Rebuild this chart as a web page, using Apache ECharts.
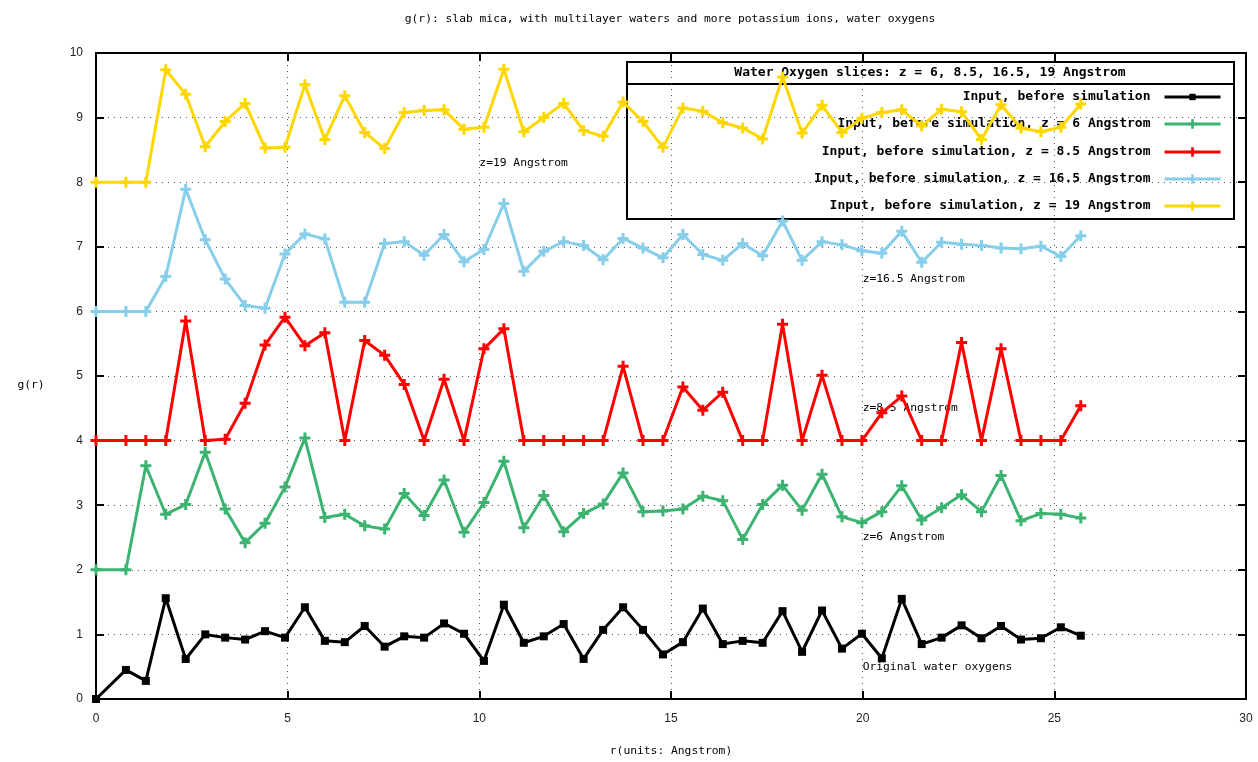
<!DOCTYPE html>
<html>
<head>
<meta charset="utf-8">
<title>g(r): slab mica, water oxygens</title>
<script src="https://cdn.jsdelivr.net/npm/echarts@6/dist/echarts.min.js"></script>
<style>
  html, body { margin: 0; padding: 0; background: #fff; }
  #chart { width: 1258px; height: 762px; }
</style>
</head>
<body>
<div id="chart"></div>
<script>
// Radial bin positions r (Angstrom)
const r = [0, 0.78, 1.30, 1.82, 2.34, 2.85, 3.37, 3.89, 4.41, 4.93,
  5.45, 5.97, 6.49, 7.01, 7.53, 8.04, 8.56, 9.08, 9.60, 10.12,
  10.64, 11.16, 11.68, 12.20, 12.72, 13.23, 13.75, 14.27, 14.79, 15.31,
  15.83, 16.35, 16.87, 17.39, 17.91, 18.42, 18.94, 19.46, 19.98, 20.50,
  21.02, 21.54, 22.06, 22.58, 23.10, 23.61, 24.13, 24.65, 25.17, 25.69];

// g(r) of all water oxygens in the input structure
const gOriginal = [0, 0.45, 0.28, 1.56, 0.62, 1.00, 0.95, 0.92, 1.05, 0.95,
  1.42, 0.90, 0.88, 1.13, 0.81, 0.97, 0.95, 1.17, 1.01, 0.59,
  1.46, 0.87, 0.97, 1.16, 0.62, 1.07, 1.42, 1.07, 0.69, 0.88,
  1.40, 0.85, 0.90, 0.87, 1.36, 0.73, 1.37, 0.78, 1.01, 0.63,
  1.55, 0.85, 0.95, 1.14, 0.94, 1.13, 0.92, 0.94, 1.11, 0.98];

// Slice z = 6 Angstrom (offset +2)
const gZ6 = [2.00, 2.00, 3.61, 2.86, 3.01, 3.82, 2.94, 2.42, 2.72, 3.28,
  4.04, 2.81, 2.86, 2.68, 2.63, 3.18, 2.84, 3.39, 2.58, 3.04,
  3.68, 2.65, 3.15, 2.59, 2.87, 3.02, 3.50, 2.90, 2.91, 2.94,
  3.14, 3.07, 2.47, 3.01, 3.31, 2.92, 3.48, 2.82, 2.73, 2.90,
  3.30, 2.77, 2.96, 3.16, 2.90, 3.46, 2.76, 2.87, 2.86, 2.80];

// Slice z = 8.5 Angstrom (offset +4)
const gZ85 = [4.00, 4.00, 4.00, 4.00, 5.85, 4.00, 4.02, 4.58, 5.48, 5.91,
  5.47, 5.67, 4.00, 5.55, 5.32, 4.87, 4.00, 4.95, 4.00, 5.42,
  5.73, 4.00, 4.00, 4.00, 4.00, 4.00, 5.15, 4.00, 4.00, 4.83,
  4.47, 4.75, 4.00, 4.00, 5.80, 4.00, 5.01, 4.00, 4.00, 4.43,
  4.69, 4.00, 4.00, 5.52, 4.00, 5.42, 4.00, 4.00, 4.00, 4.54];

// Slice z = 16.5 Angstrom (offset +6)
const gZ165 = [6.00, 6.00, 6.00, 6.54, 7.89, 7.11, 6.50, 6.09, 6.05, 6.89,
  7.20, 7.12, 6.14, 6.14, 7.05, 7.08, 6.87, 7.19, 6.77, 6.96,
  7.67, 6.62, 6.93, 7.08, 7.02, 6.80, 7.13, 6.98, 6.83, 7.19,
  6.88, 6.79, 7.05, 6.86, 7.40, 6.79, 7.08, 7.03, 6.94, 6.90,
  7.24, 6.76, 7.07, 7.04, 7.02, 6.98, 6.97, 7.01, 6.85, 7.17];

// Slice z = 19 Angstrom (offset +8)
const gZ19 = [8.00, 8.00, 8.00, 9.74, 9.36, 8.55, 8.94, 9.22, 8.53, 8.54,
  9.51, 8.66, 9.34, 8.77, 8.52, 9.08, 9.11, 9.12, 8.82, 8.85,
  9.75, 8.78, 9.00, 9.22, 8.80, 8.71, 9.24, 8.94, 8.54, 9.15,
  9.10, 8.92, 8.84, 8.67, 9.63, 8.76, 9.19, 8.77, 8.99, 9.08,
  9.12, 8.87, 9.13, 9.09, 8.66, 9.20, 8.84, 8.78, 8.85, 9.21];

const seriesNames = [
  'Input, before simulation',
  'Input, before simulation, z = 6 Angstrom',
  'Input, before simulation, z = 8.5 Angstrom',
  'Input, before simulation, z = 16.5 Angstrom',
  'Input, before simulation, z = 19 Angstrom'
];

// Curve captions: [text, r, g]
const captions = [
  ['Original water oxygens', 20, 0.5],
  ['z=6 Angstrom', 20, 2.5],
  ['z=8.5 Angstrom', 20, 4.5],
  ['z=16.5 Angstrom', 20, 6.5],
  ['z=19 Angstrom', 10, 8.3]
];

const xTicks = { min: 0, max: 30, interval: 5 };
const yTicks = { min: 0, max: 10, interval: 1 };

const MONO = '"DejaVu Sans Mono", "Liberation Mono", monospace';
const colors = ['#000000', '#3cb371', '#ff0000', '#87ceeb', '#ffd700'];
const PLUS = 'path://M4,0H7V4H11V7H7V11H4V7H0V4H4Z';
const values = [gOriginal, gZ6, gZ85, gZ165, gZ19];

const chart = echarts.init(document.getElementById('chart'), null, { renderer: 'canvas' });

const series = values.map((g, i) => ({
  name: seriesNames[i],
  type: 'line',
  data: r.map((x, k) => [x, g[k]]),
  color: colors[i],
  symbol: i === 0 ? 'rect' : PLUS,
  symbolSize: i === 0 ? 8 : 11,
  showAllSymbol: true,
  lineStyle: { width: 3, color: colors[i] },
  itemStyle: { color: colors[i] },
  z: 3 + i,
  animation: false,
  markPoint: {
    silent: true,
    animation: false,
    symbol: 'circle',
    symbolSize: 0,
    data: [{
      coord: [captions[i][1], captions[i][2]],
      label: {
        show: true,
        position: 'right',
        distance: 0,
        formatter: captions[i][0],
        color: '#000',
        fontFamily: MONO,
        fontSize: 11.3
      }
    }]
  }
}));

// Key entries, one per row, text right-aligned against the sample line
const keyRows = [97, 124, 152, 179, 206];
const legends = seriesNames.map((name, i) => ({
  data: [name],
  orient: 'vertical',
  align: 'right',
  right: 36,
  top: keyRows[i] - 8,
  padding: 0,
  itemWidth: 56,
  itemHeight: i === 0 ? 8 : 12,
  z: 1,
  selectedMode: false,
  lineStyle: { width: 3 },
  textStyle: {
    color: '#000',
    fontFamily: MONO,
    fontWeight: 'bold',
    fontSize: 13,
    lineHeight: 16,
    padding: [0, 9, 0, 0]
  }
}));

const gridDash = { color: '#555', width: 1, type: [1, 5] };

chart.setOption({
  backgroundColor: '#fff',
  animation: false,
  grid: { left: 96, right: 12, top: 53, bottom: 62, show: false },
  legend: legends,
  xAxis: [{
    type: 'value', min: xTicks.min, max: xTicks.max, interval: xTicks.interval,
    position: 'bottom',
    name: 'r(units: Angstrom)', nameLocation: 'middle', nameGap: 47,
    nameTextStyle: { fontFamily: MONO, fontSize: 11.3, color: '#000' },
    axisLine: { show: true, onZero: false, lineStyle: { color: '#000', width: 2 } },
    axisTick: { show: true, inside: true, length: 8, lineStyle: { color: '#000', width: 2 } },
    axisLabel: { margin: 14, color: '#222', fontFamily: 'Liberation Sans, Arial, sans-serif', fontSize: 12 },
    splitLine: { show: true, lineStyle: gridDash }
  }, {
    type: 'value', min: xTicks.min, max: xTicks.max, interval: xTicks.interval,
    position: 'top',
    axisLine: { show: true, onZero: false, lineStyle: { color: '#000', width: 2 } },
    axisTick: { show: true, inside: true, length: 8, lineStyle: { color: '#000', width: 2 } },
    axisLabel: { show: false },
    splitLine: { show: false }
  }],
  yAxis: [{
    type: 'value', min: yTicks.min, max: yTicks.max, interval: yTicks.interval,
    position: 'left',
    axisLine: { show: true, onZero: false, lineStyle: { color: '#000', width: 2 } },
    axisTick: { show: true, inside: true, length: 8, lineStyle: { color: '#000', width: 2 } },
    axisLabel: { margin: 13, color: '#222', fontFamily: 'Liberation Sans, Arial, sans-serif', fontSize: 12 },
    splitLine: { show: true, lineStyle: gridDash }
  }, {
    type: 'value', min: yTicks.min, max: yTicks.max, interval: yTicks.interval,
    position: 'right',
    axisLine: { show: true, onZero: false, lineStyle: { color: '#000', width: 2 } },
    axisTick: { show: true, inside: true, length: 8, lineStyle: { color: '#000', width: 2 } },
    axisLabel: { show: false },
    splitLine: { show: false }
  }],
  graphic: [
    {
      type: 'text', x: 670, y: 19, z: 10,
      style: {
        text: 'g(r): slab mica, with multilayer waters and more potassium ions, water oxygens',
        fontFamily: MONO, fontSize: 11.3, fill: '#000', align: 'center', verticalAlign: 'middle'
      }
    },
    {
      type: 'text', x: 31, y: 385, z: 10,
      style: { text: 'g(r)', fontFamily: MONO, fontSize: 11.3, fill: '#000', align: 'center', verticalAlign: 'middle' }
    },
    {
      type: 'rect', z: 0,
      shape: { x: 627, y: 62, width: 607, height: 157 },
      style: { fill: 'none', stroke: '#000', lineWidth: 2 }
    },
    {
      type: 'line', z: 0,
      shape: { x1: 627, y1: 84, x2: 1234, y2: 84 },
      style: { stroke: '#000', lineWidth: 2 }
    },
    {
      type: 'text', x: 930, y: 73, z: 1,
      style: {
        text: 'Water Oxygen slices: z = 6, 8.5, 16.5, 19 Angstrom',
        fontFamily: MONO, fontWeight: 'bold', fontSize: 13, fill: '#000',
        align: 'center', verticalAlign: 'middle'
      }
    }
  ],
  series: series
});
</script>
</body>
</html>
